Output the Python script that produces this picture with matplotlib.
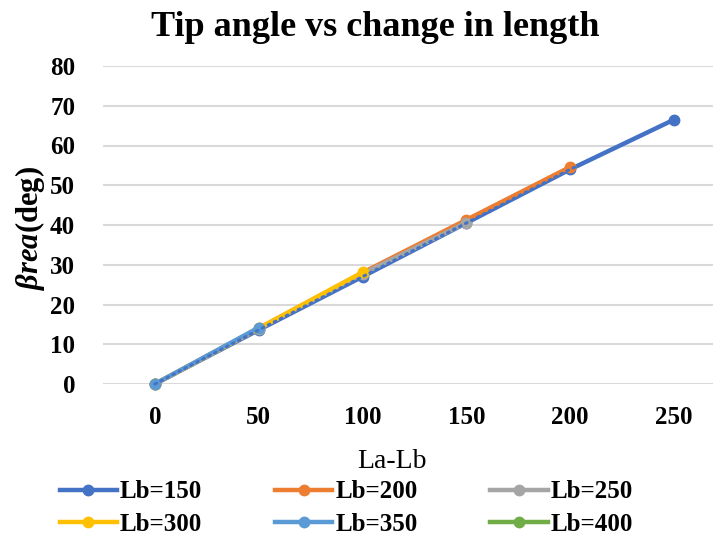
import matplotlib
matplotlib.use("Agg")
import matplotlib.pyplot as plt

plt.rcParams['font.family'] = ['Liberation Serif', 'DejaVu Serif']
plt.rcParams['mathtext.fontset'] = 'custom'
plt.rcParams['mathtext.it'] = 'Liberation Serif:italic:bold'
plt.rcParams['mathtext.rm'] = 'Liberation Serif:bold'
plt.rcParams['mathtext.bf'] = 'Liberation Serif:bold'

x_all = [0, 50, 100, 150, 200, 250]
series_names = ["Lb=150", "Lb=200", "Lb=250", "Lb=300", "Lb=350", "Lb=400"]
lb150 = [0, 13.6, 27.0, 40.5, 54.0, 66.5]
lb200 = [0, 14.0, 28.0, 41.3, 54.6]
lb250 = [0, 13.9, 27.7, 40.6]
lb300 = [0, 14.0, 28.1]
lb350 = [0, 14.2]
lb400 = [0]
series_values = [lb150, lb200, lb250, lb300, lb350, lb400]
colors = ["#4472C4", "#ED7D31", "#A5A5A5", "#FFC000", "#5B9BD5", "#70AD47"]
zorders = [3, 4, 5, 6, 7, 2]
yticks = [0, 10, 20, 30, 40, 50, 60, 70, 80]

W, H = 713, 538
fig = plt.figure(figsize=(W / 100, H / 100), dpi=100)
ax = fig.add_axes([103 / W, (H - 384) / H, (W - 103) / W, (384 - 66) / H])

handles = []
for name, vals, c, z in zip(series_names, series_values, colors, zorders):
    xs = x_all[:len(vals)]
    h, = ax.plot(xs, vals, color=c, lw=3.2, marker='o', ms=7.5,
                 label=name, zorder=z, clip_on=False)
    handles.append(h)

# dotted trend over Lb=150
ax.plot(x_all, lb150, color="#4472C4", lw=2.2, ls=(0, (0.6, 1.6)),
        dash_capstyle='round', zorder=10, clip_on=False)

ax.set_xlim(-25, (W - 155) / 2.076)
ax.set_ylim(0, 80)
ax.set_xticks(x_all)
ax.set_yticks(yticks)
for s in ax.spines.values():
    s.set_visible(False)
ax.grid(axis='y', color='#D9D9D9', lw=1.5)
ax.set_axisbelow(True)
ax.tick_params(axis='both', length=0, labelsize=18)
ax.tick_params(axis='x', pad=16)
ax.tick_params(axis='y', pad=20)
for lab in ax.get_xticklabels() + ax.get_yticklabels():
    lab.set_fontweight('bold')

fig.text(375 / W, 1 - 28 / H, "Tip angle vs change in length",
         ha='center', va='center', fontsize=26, fontweight='bold')
fig.text(392 / W, 1 - 462 / H, "La-Lb", ha='center', va='center', fontsize=20)
fig.text(30 / W, 1 - 228 / H, r"$\beta rea$(deg)", ha='center', va='center',
         rotation=90, fontsize=22, fontweight='bold')

# row-wise order for a 3-column legend
order = [0, 3, 1, 4, 2, 5]
leg = fig.legend(handles=[handles[i] for i in order], loc='upper left', ncol=3,
                 bbox_to_anchor=(47 / W, 1 - 468 / H), frameon=False,
                 borderpad=0, handlelength=2.3, handletextpad=0.12,
                 columnspacing=2.9, labelspacing=0.38,
                 prop={'size': 18, 'weight': 'bold'})

fig.savefig("out.png", dpi=100)
